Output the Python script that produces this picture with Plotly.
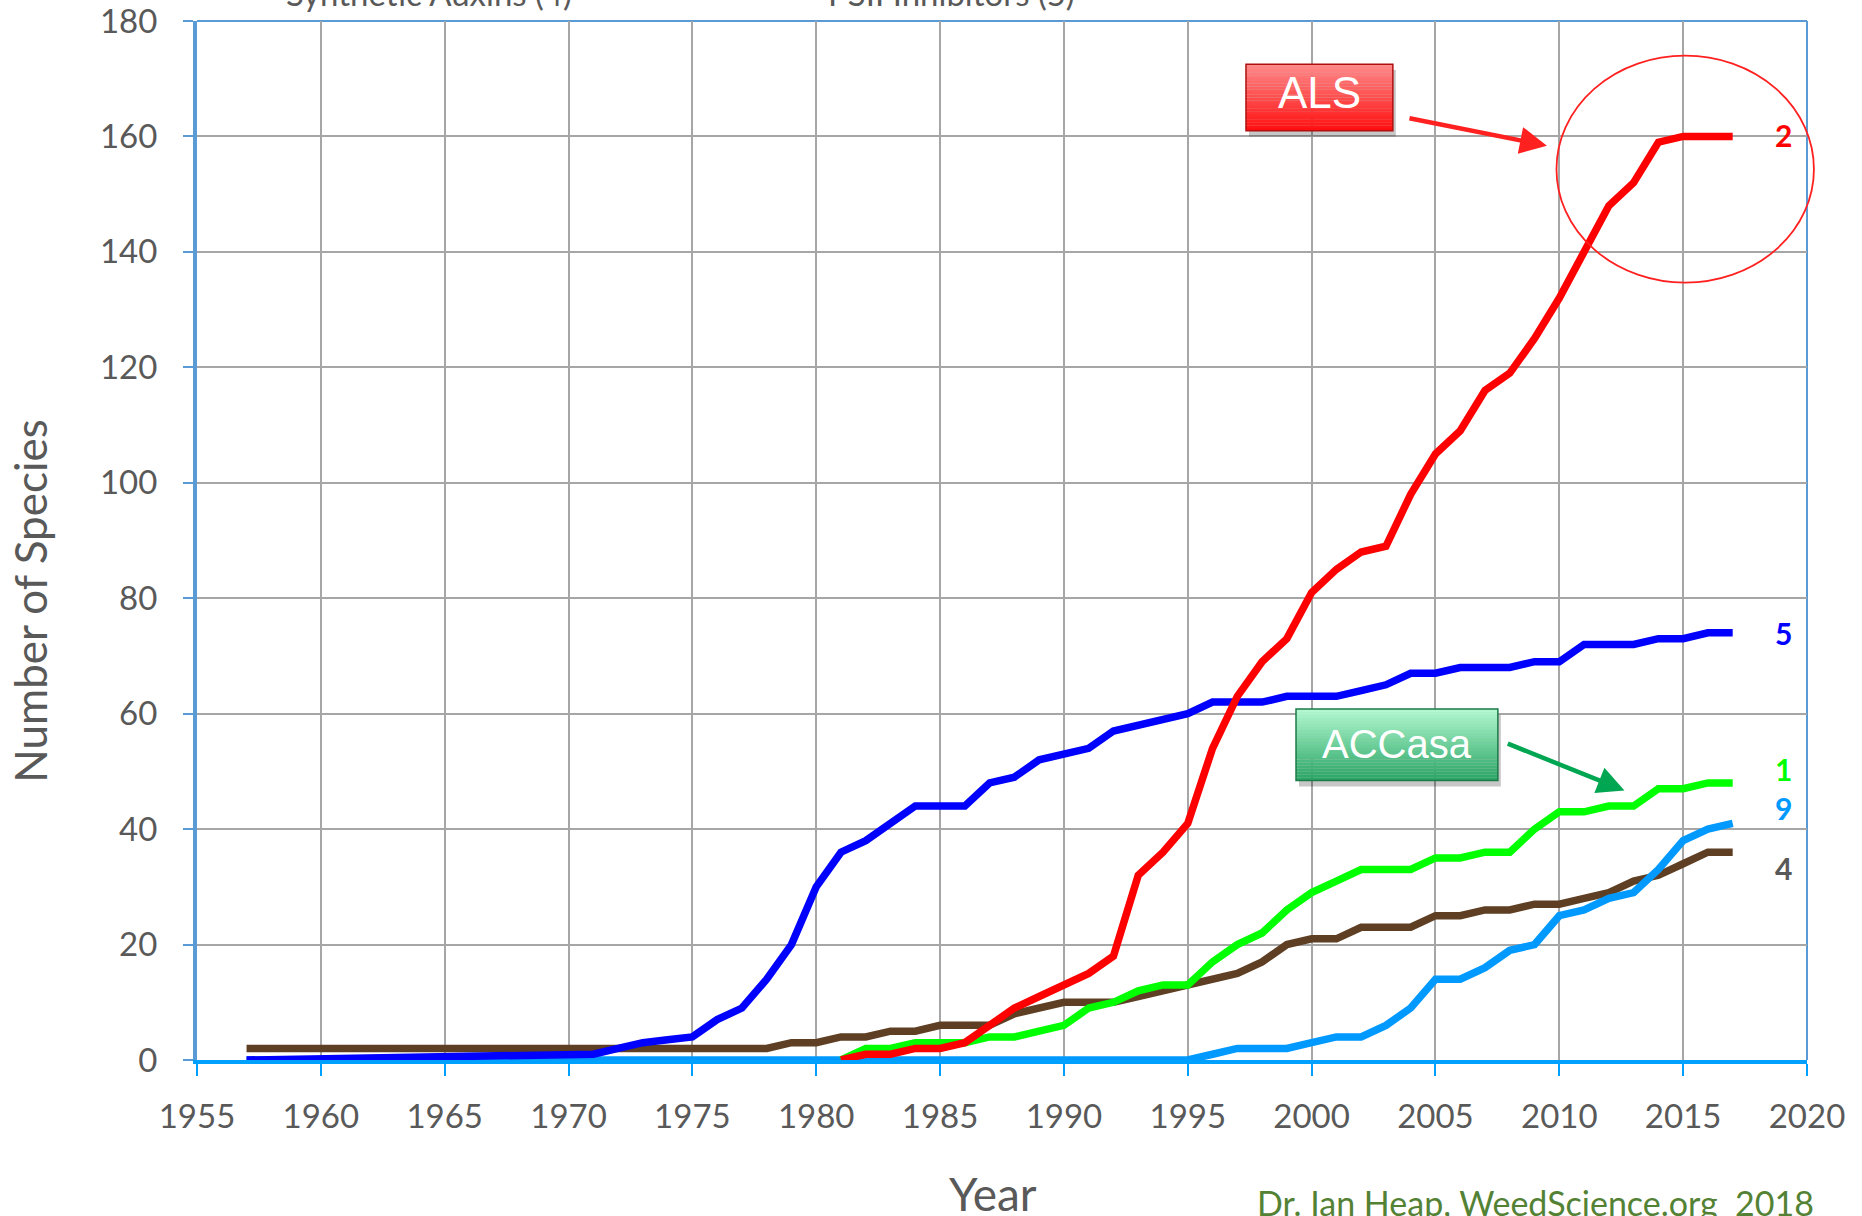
import plotly.graph_objects as go

# ---------------- data ----------------
years_psii = [1957, 1970, 1971, 1972, 1973, 1974, 1975, 1976, 1977, 1978, 1979, 1980,
              1981, 1982, 1983, 1984, 1985, 1986, 1987, 1988, 1989, 1990, 1991, 1992,
              1993, 1994, 1995, 1996, 1997, 1998, 1999, 2000, 2001, 2002, 2003, 2004,
              2005, 2006, 2007, 2008, 2009, 2010, 2011, 2012, 2013, 2014, 2015, 2016, 2017]
psii = [0, 1, 1, 2, 3, 3.5, 4, 7, 9, 14, 20, 30,
        36, 38, 41, 44, 44, 44, 48, 49, 52, 53, 54, 57,
        58, 59, 60, 62, 62, 62, 63, 63, 63, 64, 65, 67,
        67, 68, 68, 68, 69, 69, 72, 72, 72, 73, 73, 74, 74]

years_81 = [1981, 1982, 1983, 1984, 1985, 1986, 1987, 1988, 1989, 1990, 1991, 1992,
            1993, 1994, 1995, 1996, 1997, 1998, 1999, 2000, 2001, 2002, 2003, 2004,
            2005, 2006, 2007, 2008, 2009, 2010, 2011, 2012, 2013, 2014, 2015, 2016, 2017]
als = [0, 1, 1, 2, 2, 3, 6, 9, 11, 13, 15, 18,
       32, 36, 41, 54, 63, 69, 73, 81, 85, 88, 89, 98,
       105, 109, 116, 119, 125, 132, 140, 148, 152, 159, 160, 160, 160]
accase = [0, 2, 2, 3, 3, 3, 4, 4, 5, 6, 9, 10,
          12, 13, 13, 17, 20, 22, 26, 29, 31, 33, 33, 33,
          35, 35, 36, 36, 40, 43, 43, 44, 44, 47, 47, 48, 48]

years_auxins = [1957, 1958, 1959, 1960, 1961, 1962, 1963, 1964, 1965, 1966, 1967, 1968,
                1969, 1970, 1971, 1972, 1973, 1974, 1975, 1976, 1977, 1978, 1979, 1980,
                1981, 1982, 1983, 1984, 1985, 1986, 1987, 1988, 1989, 1990, 1991, 1992,
                1993, 1994, 1995, 1996, 1997, 1998, 1999, 2000, 2001, 2002, 2003, 2004,
                2005, 2006, 2007, 2008, 2009, 2010, 2011, 2012, 2013, 2014, 2015, 2016, 2017]
auxins = [2, 2, 2, 2, 2, 2, 2, 2, 2, 2, 2, 2,
          2, 2, 2, 2, 2, 2, 2, 2, 2, 2, 3, 3,
          4, 4, 5, 5, 6, 6, 6, 8, 9, 10, 10, 10,
          11, 12, 13, 14, 15, 17, 20, 21, 21, 23, 23, 23,
          25, 25, 26, 26, 27, 27, 28, 29, 31, 32, 34, 36, 36]

years_gly = [1957, 1995, 1996, 1997, 1998, 1999, 2000, 2001, 2002, 2003, 2004, 2005,
             2006, 2007, 2008, 2009, 2010, 2011, 2012, 2013, 2014, 2015, 2016, 2017]
glyphosate = [0, 0, 1, 2, 2, 2, 3, 4, 4, 6, 9, 14,
              14, 16, 19, 20, 25, 26, 28, 29, 33, 38, 40, 41]

x_ticks = [1955, 1960, 1965, 1970, 1975, 1980, 1985, 1990, 1995, 2000, 2005, 2010, 2015, 2020]
y_ticks = [0, 20, 40, 60, 80, 100, 120, 140, 160, 180]

end_labels = ["2", "5", "1", "9", "4"]
end_label_y = [160.2, 74.0, 50.4, 43.7, 33.3]
end_label_colors = ["#FF0000", "#0000FF", "#00FF00", "#0099FF", "#595959"]

# ---------------- figure ----------------
fig = go.Figure()
series = [
    (years_auxins, auxins, "#5E3F23", "Synthetic Auxins (4)"),
    (years_gly, glyphosate, "#0099FF", "Glyphosate (9)"),
    (years_81, accase, "#00FF00", "ACCase (1)"),
    (years_psii, psii, "#0000FF", "PSII Inhibitors (5)"),
    (years_81, als, "#FF0000", "ALS (2)"),
]
for xs, ys, col, name in series:
    fig.add_trace(go.Scatter(x=xs, y=ys, mode="lines", name=name,
                             line=dict(color=col, width=7.5), showlegend=False,
                             cliponaxis=False))

FONT = "Lato"
TXT = "#595959"

shapes = []
annotations = []


def hexmix(c1, c2, t):
    a = [int(c1[i:i + 2], 16) for i in (1, 3, 5)]
    b = [int(c2[i:i + 2], 16) for i in (1, 3, 5)]
    return "#%02x%02x%02x" % tuple(round(a[k] + (b[k] - a[k]) * t) for k in range(3))


def gradient_box(x0, x1, y0, y1, ctop, cbot, cborder, n=24):
    shapes.append(dict(type="rect", xref="x", yref="y", x0=x0 + 0.12, x1=x1 + 0.12,
                       y0=y0 - 1.0, y1=y1 - 1.0, fillcolor="rgba(0,0,0,0.22)",
                       line=dict(width=0), layer="above"))
    h = (y1 - y0) / n
    for i in range(n):
        t = i / (n - 1)
        shapes.append(dict(type="rect", xref="x", yref="y", x0=x0, x1=x1,
                           y0=y1 - (i + 1) * h - 0.02, y1=y1 - i * h,
                           fillcolor=hexmix(ctop, cbot, t), line=dict(width=0), layer="above"))
    shapes.append(dict(type="rect", xref="x", yref="y", x0=x0, x1=x1, y0=y0, y1=y1,
                       fillcolor="rgba(0,0,0,0)", line=dict(color=cborder, width=1.5),
                       layer="above"))


# ALS box
gradient_box(1997.35, 2003.28, 161.0, 172.5, "#FF8A8A", "#FF1010", "#B01010")
annotations.append(dict(x=(1997.35 + 2003.28) / 2, y=167.6, xref="x", yref="y",
                        text="ALS", showarrow=False, xanchor="center", yanchor="middle",
                        font=dict(family="Liberation Sans", size=44, color="white")))
# ACCasa box
gradient_box(1999.37, 2007.52, 48.4, 60.8, "#B2F7D0", "#2AA665", "#1C7A48")
annotations.append(dict(x=(1999.37 + 2007.52) / 2, y=54.8, xref="x", yref="y",
                        text="ACCasa", showarrow=False, xanchor="center", yanchor="middle",
                        font=dict(family="Liberation Sans", size=40, color="white")))

# arrows
annotations.append(dict(x=2009.5, y=158.4, ax=2003.89, ay=163.2, xref="x", yref="y",
                        axref="x", ayref="y", text="", showarrow=True, arrowhead=2,
                        arrowsize=1.2, arrowwidth=4.5, arrowcolor="#FF2020", standoff=0))
annotations.append(dict(x=2012.63, y=46.7, ax=2007.86, ay=54.9, xref="x", yref="y",
                        axref="x", ayref="y", text="", showarrow=True, arrowhead=2,
                        arrowsize=1.2, arrowwidth=4.5, arrowcolor="#00A651", standoff=0))

# ellipse around ALS plateau
shapes.append(dict(type="circle", xref="paper", yref="paper", x0=0.8444, x1=1.0043,
                   y0=0.7482, y1=0.9666, line=dict(color="#FF2020", width=1.8), layer="above"))

# top and right border
shapes.append(dict(type="line", xref="paper", yref="paper", x0=0, x1=1, y0=1, y1=1,
                   line=dict(color="#5B9BD5", width=2), layer="below"))
shapes.append(dict(type="line", xref="paper", yref="paper", x0=1, x1=1, y0=0, y1=1,
                   line=dict(color="#5B9BD5", width=2), layer="below"))

# end labels
for lab, ly, lc in zip(end_labels, end_label_y, end_label_colors):
    annotations.append(dict(x=2019.05, y=ly, xref="x", yref="y", text="<b>" + lab + "</b>",
                            showarrow=False, xanchor="center", yanchor="middle",
                            font=dict(family=FONT, size=30, color=lc)))

# cut-off legend entries at the top
annotations.append(dict(x=(428.5 - 197) / 1610, y=1.0269, xref="paper", yref="paper",
                        text="Synthetic Auxins (4)", showarrow=False,
                        xanchor="center", yanchor="middle",
                        font=dict(family=FONT, size=33, color=TXT)))
annotations.append(dict(x=(951 - 197) / 1610, y=1.0269, xref="paper", yref="paper",
                        text="PSII Inhibitors (5)", showarrow=False,
                        xanchor="center", yanchor="middle",
                        font=dict(family=FONT, size=33, color=TXT)))

# axis titles and credit
annotations.append(dict(x=(30 - 197) / 1610, y=(1060.4 - 601) / 1039.4, xref="paper",
                        yref="paper", text="Number of Species", textangle=-90,
                        showarrow=False, xanchor="center", yanchor="middle",
                        font=dict(family=FONT, size=44, color=TXT)))
annotations.append(dict(x=(993 - 197) / 1610, y=(1060.4 - 1194) / 1039.4, xref="paper",
                        yref="paper", text="Year", showarrow=False,
                        xanchor="center", yanchor="middle",
                        font=dict(family=FONT, size=46, color=TXT)))
annotations.append(dict(x=(1535 - 197) / 1610, y=(1060.4 - 1203) / 1039.4, xref="paper",
                        yref="paper", text="Dr. Ian Heap, WeedScience.org  2018",
                        showarrow=False, xanchor="center", yanchor="middle",
                        font=dict(family=FONT, size=34, color="#548235")))

fig.update_layout(
    width=1862, height=1216,
    margin=dict(l=197, r=55, t=21, b=156, pad=0, autoexpand=False),
    paper_bgcolor="white", plot_bgcolor="white",
    shapes=shapes, annotations=annotations,
    showlegend=False,
    font=dict(family=FONT, color=TXT),
)
fig.update_xaxes(range=[1955, 2020], tickvals=x_ticks, ticktext=[str(v) for v in x_ticks],
                 showgrid=True, gridcolor="#A6A6A6", gridwidth=1.6,
                 showline=True, linecolor="#00A0FF", linewidth=4,
                 ticks="outside", ticklen=12, tickwidth=2, tickcolor="#00A0FF",
                 ticklabelstandoff=12, ticklabeloverflow="allow", zeroline=False,
                 automargin=False,
                 tickfont=dict(family=FONT, size=33, color=TXT))
fig.update_yaxes(range=[0, 180], tickvals=y_ticks, ticktext=[str(v) for v in y_ticks],
                 showgrid=True, gridcolor="#A6A6A6", gridwidth=1.6,
                 showline=True, linecolor="#5B9BD5", linewidth=4,
                 ticks="outside", ticklen=10, tickwidth=2, tickcolor="#5B9BD5",
                 ticklabelstandoff=19, ticklabeloverflow="allow", zeroline=False,
                 automargin=False,
                 tickfont=dict(family=FONT, size=33, color=TXT))

fig.write_html("out.html", config={"displayModeBar": False},
               post_script="document.body.style.margin='0';document.body.style.overflow='hidden';")
